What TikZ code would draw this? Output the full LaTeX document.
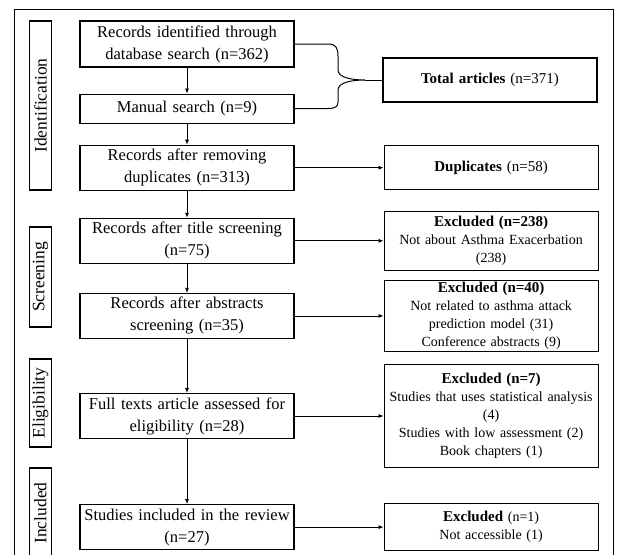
\documentclass[tikz,border=0pt]{standalone}
\usepackage{fontspec}
\setmainfont{Liberation Serif}
\usepackage{tikz}
\usetikzlibrary{positioning}
\usetikzlibrary{arrows.meta}
\tikzset{>={Latex[width=4pt,length=5pt]}}

\begin{document}
\begin{tikzpicture}[x=1pt, y=-1pt, node/.style={rectangle, draw=black, line width=1.1pt, fill=white, text width=210pt, inner sep=2pt, align=center, minimum height=45pt, font=\fontsize{16.5}{22}\selectfont}, sidenode/.style={rectangle, draw=black, line width=1.1pt, fill=white, text width=210pt, inner sep=2pt, align=center, font=\fontsize{14}{18}\selectfont}, stagenode/.style={rectangle, draw=black, line width=1.1pt, rotate=90, minimum height=22pt, inner sep=0pt, font=\fontsize{17.5}{20}\selectfont}]

    \useasboundingbox (0,0) rectangle (617,554);
    \clip (0,0) rectangle (617,554);
    \draw[line width=1pt] (14,9) rectangle (613,570);

    %Nodes
    \node[node, minimum height=46pt](records) at (187,44){Records identified through\\database search (n=362)};
    \node[node, minimum height=29pt](manual)[below=26pt of records]{Manual search (n=9)};
    \node[node](dedup)[below=21pt of manual]{Records after removing\\duplicates (n=313)};
    \node[node](title)[below=27pt of dedup]{Records after title screening\\(n=75)};
    \node[node](abstracts)[below=29pt of title]{Records after abstracts\\screening (n=35)};
    \node[node](fulltext)[below=54pt of abstracts]{Full texts article assessed for\\eligibility (n=28)};
    \node[node](included)[below=65pt of fulltext]{Studies included in the review\\(n=27)};

    \node[sidenode, minimum height=44pt, font=\fontsize{15}{18}\selectfont](total) at (490,80){\textbf{Total articles} (n=371)};
    \node[sidenode, minimum height=44pt, font=\fontsize{15}{18}\selectfont](duplicates)[right=89pt of dedup]{\textbf{Duplicates} (n=58)};
    \node[sidenode, minimum height=59pt](excl_title)[right=89pt of title]{{\fontsize{15}{18}\selectfont\textbf{Excluded (n=238)}}\\Not about Asthma Exacerbation\\(238)};
    \node[sidenode, minimum height=71pt](excl_abstracts)[right=89pt of abstracts]{{\fontsize{15}{18}\selectfont\textbf{Excluded (n=40)}}\\Not related to asthma attack\\prediction model (31)\\Conference abstracts (9)};
    \node[sidenode, minimum height=103pt](excl_fulltext)[right=89pt of fulltext]{{\fontsize{15}{18}\selectfont\textbf{Excluded (n=7)}}\\Studies that uses statistical analysis\\(4)\\Studies with low assessment (2)\\Book chapters (1)};
    \node[sidenode, minimum height=47pt](excl_included)[right=89pt of included]{{\fontsize{15}{18}\selectfont\textbf{Excluded}} (n=1)\\Not accessible (1)};

    \node[stagenode, minimum width=169pt](identification) at (40.5,105.5){Identification};
    \node[stagenode, minimum width=100pt](screening) at (40.5,277){Screening};
    \node[stagenode, minimum width=88pt](eligibility) at (40.5,403){Eligibility};
    \node[stagenode, minimum width=90pt](inclusion) at (40.5,513){Included};

    \coordinate (tip) at (365,80);

    %Lines
    \draw[->, line width=0.8pt] (records.south) -- (manual.north);
    \draw[->, line width=0.8pt] (manual.south) -- (dedup.north);
    \draw[->, line width=0.8pt] (dedup.south) -- (title.north);
    \draw[->, line width=0.8pt] (title.south) -- (abstracts.north);
    \draw[->, line width=0.8pt] (abstracts.south) -- (fulltext.north);
    \draw[->, line width=0.8pt] (fulltext.south) -- (included.north);
    \draw[->, line width=0.8pt] (dedup.east) -- (duplicates.west);
    \draw[->, line width=0.8pt] (title.east) -- (excl_title.west);
    \draw[->, line width=0.8pt] (abstracts.east) -- (excl_abstracts.west);
    \draw[->, line width=0.8pt] (fulltext.east) -- (excl_fulltext.west);
    \draw[->, line width=0.8pt] (included.east) -- (excl_included.west);
    \draw[line width=1pt] (records.east) -- (328,44) .. controls (336,44) and (338,48) .. (338,56) -- (338,70) .. controls (338,77) and (350,80) .. (tip) .. controls (350,80) and (338,83) .. (338,90) -- (338,102) .. controls (338,106) and (336,108.5) .. (328,108.5) -- (manual.east);
    \draw[line width=1pt] (tip) -- (total.west);

\end{tikzpicture}
\end{document}
